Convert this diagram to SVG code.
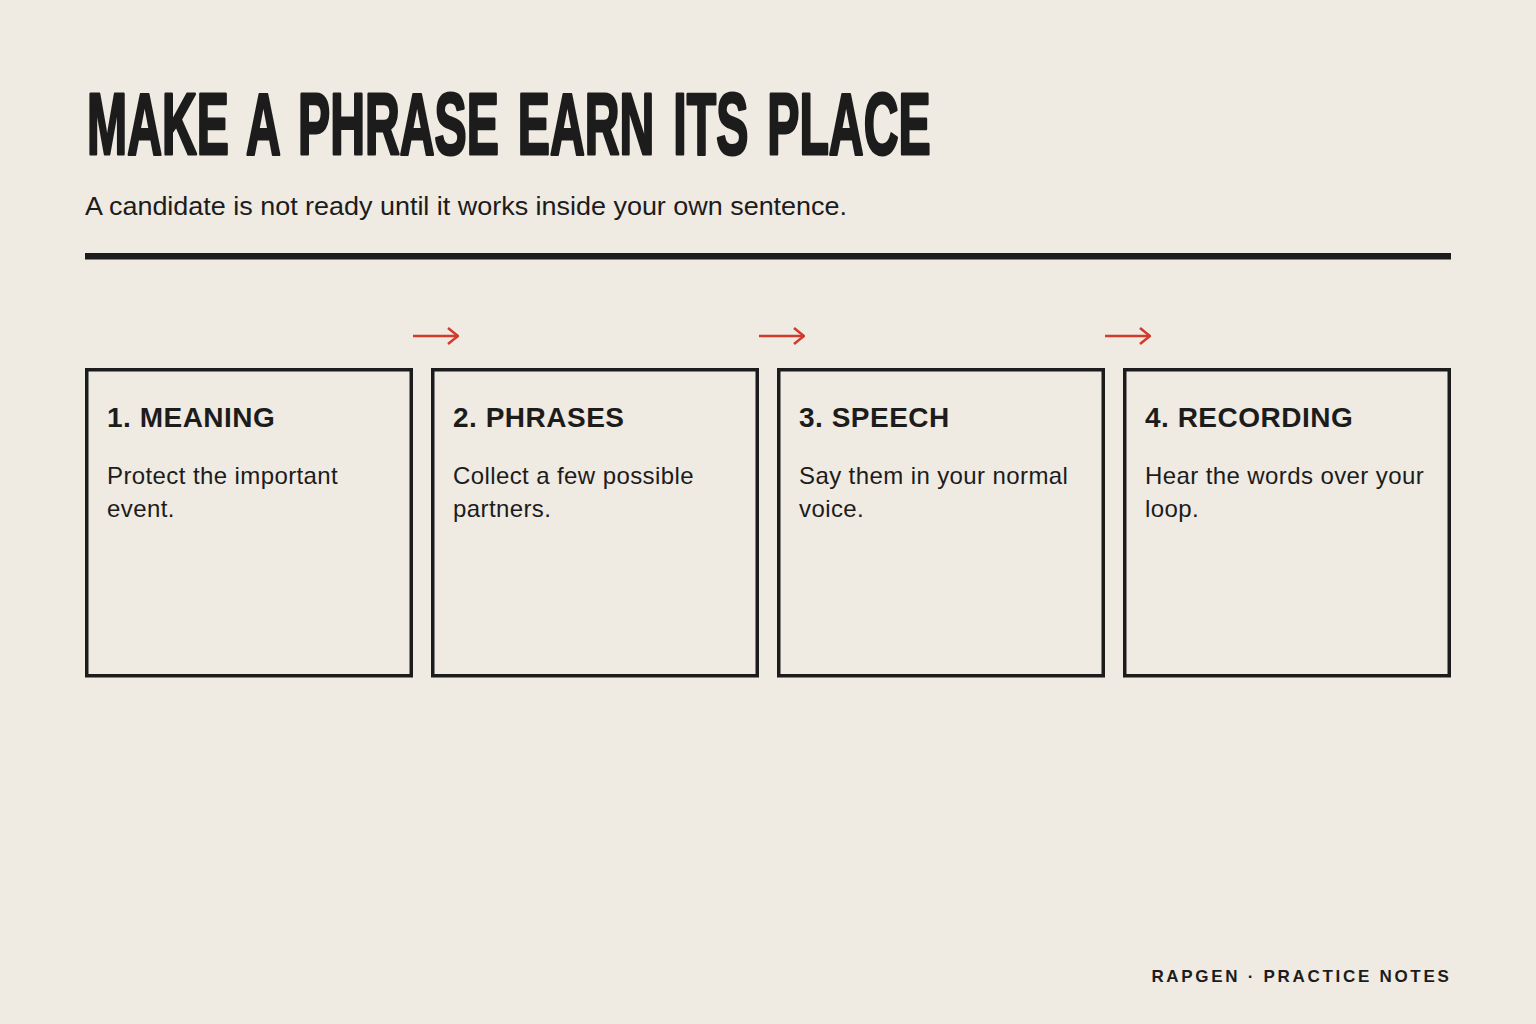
<svg xmlns="http://www.w3.org/2000/svg" width="1536" height="1024" viewBox="0 0 1536 1024">
<defs>
<style>
.bg{fill:#EFEAE2}
.ink{fill:#1C1C1C}
.title{font-family:"Liberation Sans",Arial,sans-serif;font-weight:700;font-size:87px;fill:#1C1C1C;stroke:#1C1C1C;stroke-width:3px;stroke-linejoin:round;word-spacing:10px}
.sub{font-family:"Liberation Sans",Arial,sans-serif;font-size:26px;fill:#1C1C1C}
.box{fill:none;stroke:#1C1C1C;stroke-width:3.5}
.head{font-family:"Liberation Sans",Arial,sans-serif;font-weight:700;font-size:28px;letter-spacing:0.5px;fill:#1C1C1C}
.body{font-family:"Liberation Sans",Arial,sans-serif;font-size:24px;letter-spacing:0.4px;fill:#1C1C1C}
.foot{font-family:"Liberation Sans",Arial,sans-serif;font-weight:700;font-size:17px;letter-spacing:2.7px;fill:#1C1C1C}
.arrow{fill:none;stroke:#D23A2C;stroke-width:2.5;stroke-linecap:butt}
</style>
<marker id="ah" viewBox="0 0 12 18" refX="11" refY="9" markerWidth="12" markerHeight="18" markerUnits="userSpaceOnUse" orient="auto">
<path d="M1,1 L11,9 L1,17" fill="none" stroke="#D23A2C" stroke-width="2.5"/>
</marker>
</defs>
<rect class="bg" x="0" y="0" width="1536" height="1024"/>
<g id="header">
<text class="title" transform="translate(87 154) scale(0.6 1)" x="0" y="0" textLength="1406" lengthAdjust="spacingAndGlyphs">MAKE A PHRASE EARN ITS PLACE</text>
<text class="sub" x="85" y="215" textLength="762" lengthAdjust="spacingAndGlyphs">A candidate is not ready until it works inside your own sentence.</text>
<rect class="ink" x="85" y="253" width="1366" height="6.5"/>
</g>
<g id="connectors">
<line class="arrow" x1="413" y1="336" x2="458" y2="336" marker-end="url(#ah)"/>
<line class="arrow" x1="759" y1="336" x2="804" y2="336" marker-end="url(#ah)"/>
<line class="arrow" x1="1105" y1="336" x2="1150" y2="336" marker-end="url(#ah)"/>
</g>
<g id="step1">
<rect class="box" x="86.75" y="369.75" width="324.5" height="306"/>
<text class="head" x="107" y="427">1. MEANING</text>
<text class="body" x="107" y="484">Protect the important</text>
<text class="body" x="107" y="517">event.</text>
</g>
<g id="step2">
<rect class="box" x="432.75" y="369.75" width="324.5" height="306"/>
<text class="head" x="453" y="427">2. PHRASES</text>
<text class="body" x="453" y="484">Collect a few possible</text>
<text class="body" x="453" y="517">partners.</text>
</g>
<g id="step3">
<rect class="box" x="778.75" y="369.75" width="324.5" height="306"/>
<text class="head" x="799" y="427">3. SPEECH</text>
<text class="body" x="799" y="484">Say them in your normal</text>
<text class="body" x="799" y="517">voice.</text>
</g>
<g id="step4">
<rect class="box" x="1124.75" y="369.75" width="324.5" height="306"/>
<text class="head" x="1145" y="427">4. RECORDING</text>
<text class="body" x="1145" y="484">Hear the words over your</text>
<text class="body" x="1145" y="517">loop.</text>
</g>
<g id="footer">
<text class="foot" x="1451.5" y="982" text-anchor="end">RAPGEN · PRACTICE NOTES</text>
</g>
</svg>
